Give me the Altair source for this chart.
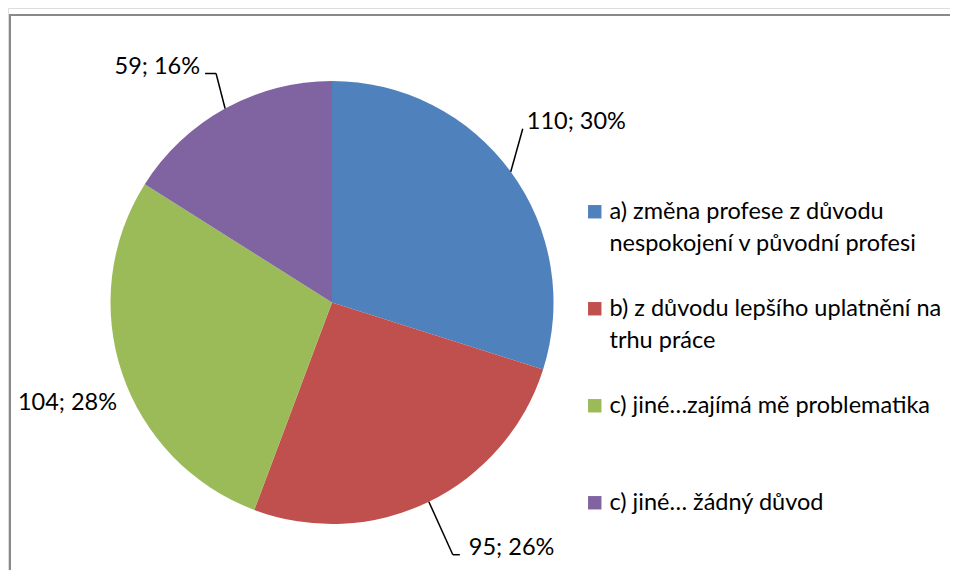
import altair as alt
import pandas as pd

# ---- data ----
keys = ["a", "b", "c", "d"]
categories = [
    "a) změna profese z důvodu|nespokojení v původní profesi",
    "b) z důvodu lepšího uplatnění na|trhu práce",
    "c) jiné…zajímá mě problematika",
    "c) jiné… žádný důvod",
]
values = [110, 95, 104, 59]
order = [0, 1, 2, 3]

# ---- style ----
colors = ["#4F81BD", "#C0504D", "#9BBB59", "#8064A2"]
FONT = "Lato"
FS = 23.5
CX, CY, R = 324, 294.5, 221.5
W, H = 942, 562

df = pd.DataFrame({"key": keys, "category": categories, "value": values, "order": order})

base = (
    alt.Chart(df)
    .transform_joinaggregate(total="sum(value)")
    .transform_window(cum="sum(value)", sort=[alt.SortField("order")], frame=[None, 0])
    .transform_calculate(
        mid="2*PI*(datum.cum - datum.value/2)/datum.total",
        label="datum.value + '; ' + format(datum.value/datum.total, '.0%')",
    )
    .transform_calculate(
        ax=f"{CX} + {R}*sin(datum.mid)",
        ay=f"{CY} - {R}*cos(datum.mid)",
    )
)

pie = (
    alt.Chart(df)
    .mark_arc(x=CX, y=CY, radius=R)
    .encode(
        theta=alt.Theta("value:Q", stack=True),
        order=alt.Order("order:Q"),
        color=alt.Color(
            "category:N",
            scale=alt.Scale(domain=categories, range=colors),
            legend=alt.Legend(
                title=None,
                orient="none",
                legendX=575,
                legendY=192,
                symbolType="square",
                symbolSize=180,
                symbolStrokeWidth=0,
                labelFont=FONT,
                labelFontSize=FS,
                labelColor="#000000",
                labelLimit=0,
                labelOffset=3,
                labelBaseline="middle",
                labelExpr="split(datum.label, '|')",
                gridAlign="all",
                rowPadding=40,
                padding=0,
            ),
        ),
    )
)

# label placement relative to the slice's mid-angle point on the rim
LABEL_LAYOUT = {
    "a": dict(dx=16, dy=-50, align="left"),
    "b": dict(dx=40, dy=46, align="left"),
    "c": dict(dx=-5, dy=30, align="right"),
    "d": dict(dx=-25, dy=-42, align="right"),
}
# leader-line bends relative to the rim point
LEADERS = {
    "a": [(0, 0), (12, -43)],
    "b": [(0, 0), (24, 53), (31, 53)],
    "d": [(0, 0), (-9, -35), (-20, -35)],
}

layers = [pie]
for k, lay in LABEL_LAYOUT.items():
    layers.append(
        base.transform_filter(f"datum.key == '{k}'")
        .mark_text(font=FONT, fontSize=FS, color="#000000", baseline="middle", **lay)
        .encode(
            x=alt.X("ax:Q", scale=None, axis=None),
            y=alt.Y("ay:Q", scale=None, axis=None),
            text="label:N",
        )
    )

for k, pts in LEADERS.items():
    for (x1, y1), (x2, y2) in zip(pts[:-1], pts[1:]):
        layers.append(
            base.transform_filter(f"datum.key == '{k}'")
            .transform_calculate(
                lx1=f"datum.ax + {x1}", ly1=f"datum.ay + {y1}",
                lx2=f"datum.ax + {x2}", ly2=f"datum.ay + {y2}",
            )
            .mark_rule(color="#000000", strokeWidth=1.5)
            .encode(
                x=alt.X("lx1:Q", scale=None, axis=None),
                y=alt.Y("ly1:Q", scale=None, axis=None),
                x2="lx2:Q",
                y2="ly2:Q",
            )
        )

frame_df = pd.DataFrame({"f": [0]})
frame_left = alt.Chart(frame_df).mark_rule(color="#898989", strokeWidth=2).encode(
    x=alt.value(2), y=alt.value(6), y2=alt.value(H)
)
frame_top = alt.Chart(frame_df).mark_rule(color="#898989", strokeWidth=2).encode(
    y=alt.value(7), x=alt.value(1), x2=alt.value(W)
)
layers += [frame_left, frame_top]

chart = (
    alt.layer(*layers)
    .properties(width=W, height=H, autosize=alt.AutoSizeParams(type="none"), padding=0)
    .configure_view(stroke=None)
    .configure(style={"guide-label": {"lineHeight": 32}})
)

chart.save("out.html", embed_options={"renderer": "svg", "actions": False})
